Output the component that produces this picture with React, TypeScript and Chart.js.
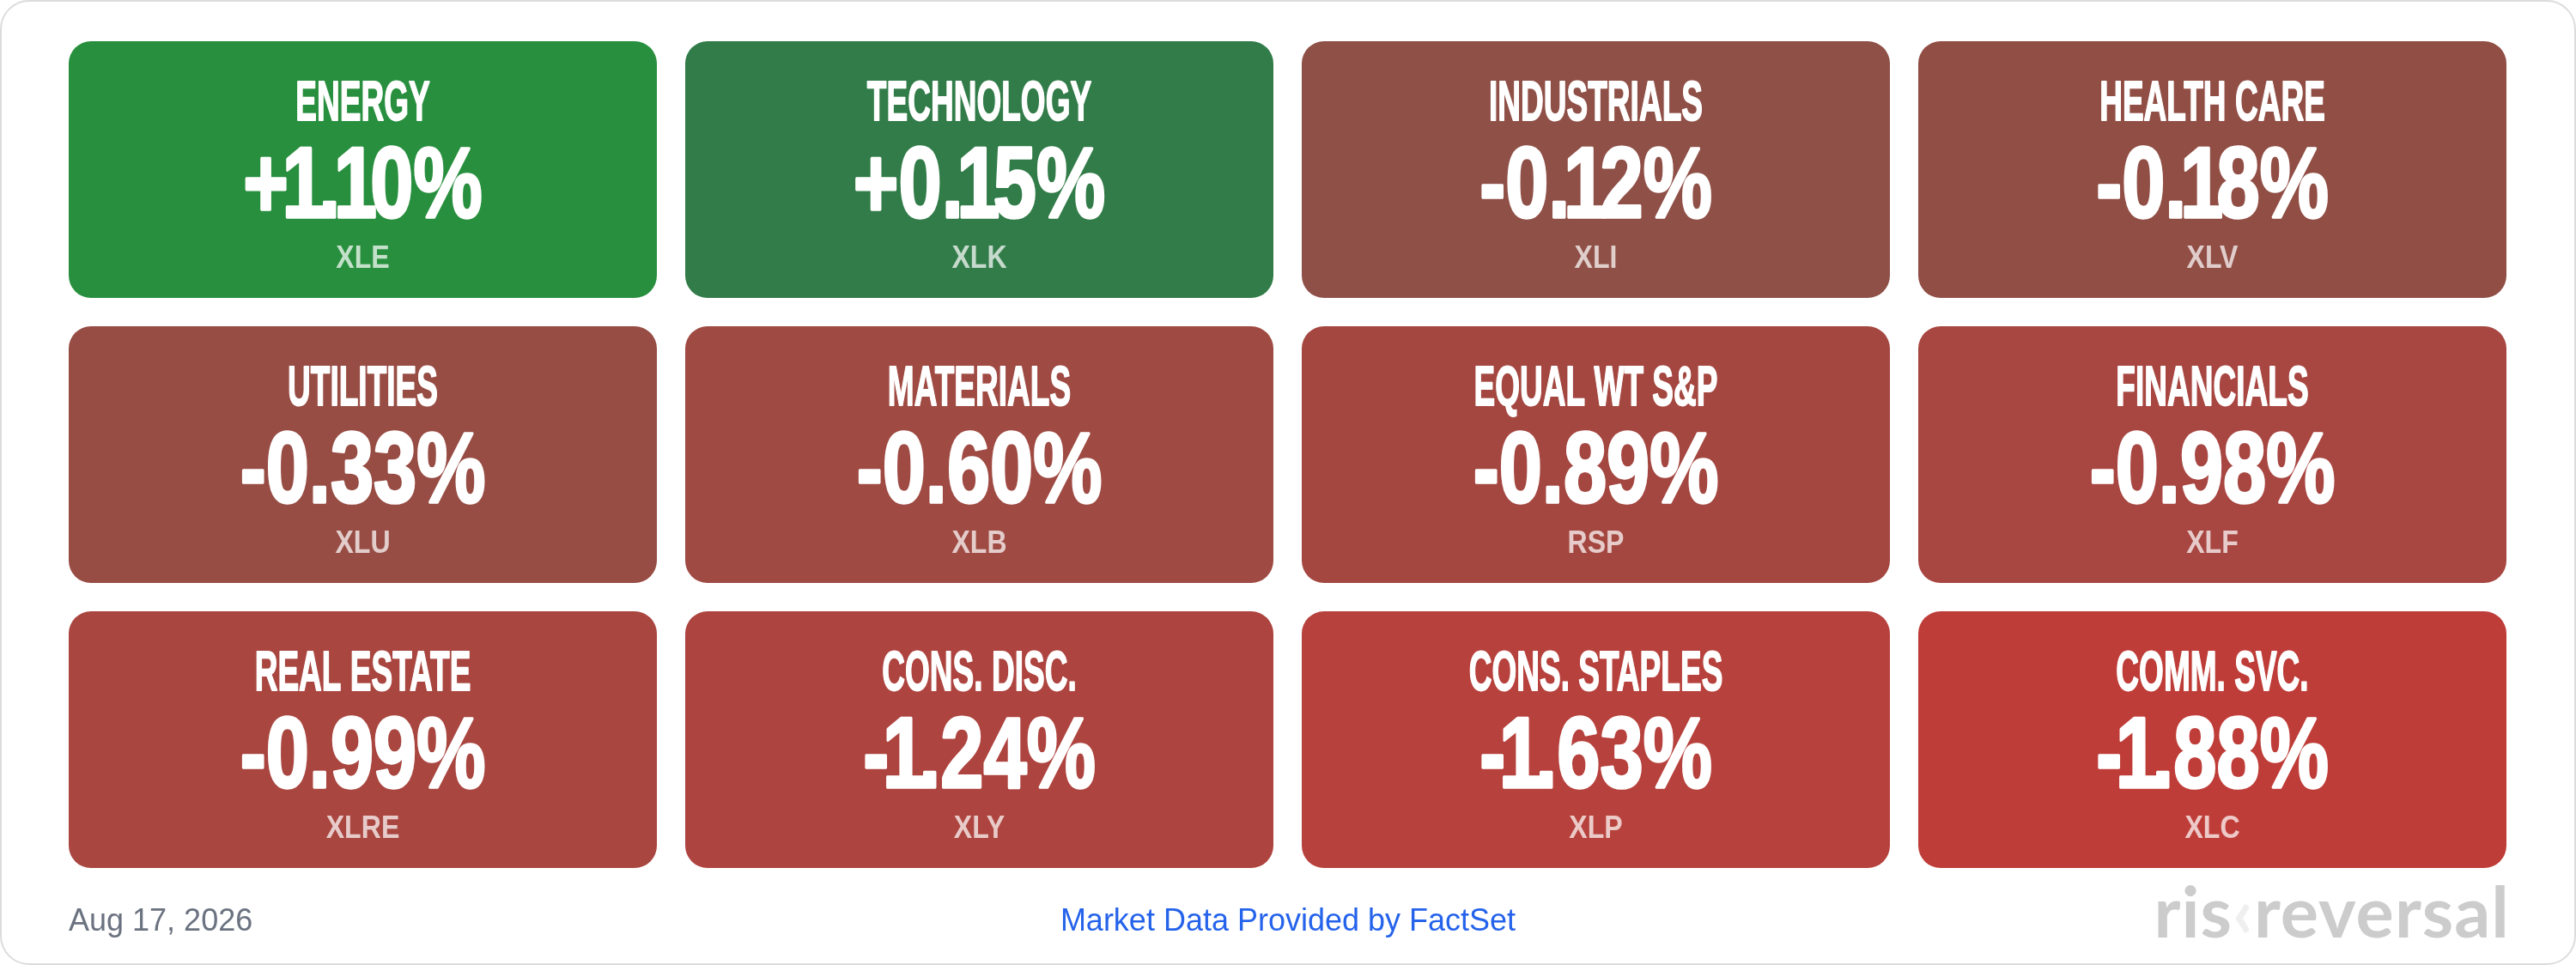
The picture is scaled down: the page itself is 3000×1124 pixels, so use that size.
import React, { useEffect, useRef } from "react";
import { Chart, registerables } from "chart.js";

Chart.register(...registerables);

// ---------- data ----------
const sectorNames = [
  "ENERGY", "TECHNOLOGY", "INDUSTRIALS", "HEALTH CARE",
  "UTILITIES", "MATERIALS", "EQUAL WT S&P", "FINANCIALS",
  "REAL ESTATE", "CONS. DISC.", "CONS. STAPLES", "COMM. SVC.",
];
const sectorChanges = [1.10, 0.15, -0.12, -0.18, -0.33, -0.60, -0.89, -0.98, -0.99, -1.24, -1.63, -1.88];
const sectorTickers = ["XLE", "XLK", "XLI", "XLV", "XLU", "XLB", "RSP", "XLF", "XLRE", "XLY", "XLP", "XLC"];
const tileColors = [
  "#288f3e", "#317c48", "#8f5047", "#914e45",
  "#974c44", "#9f4a42", "#a44740", "#a84641",
  "#a94640", "#ae443f", "#b7413c", "#bf3d38",
];
const columnLabels = ["1", "2", "3", "4"];
const rowCount = 3;
const dateLabel = "Aug 17, 2026";
const sourceLabel = "Market Data Provided by FactSet";

// ---------- styles ----------
const GAP = 16.5;
const RADIUS = 26;
const NAME_FONT = "'Liberation Sans Narrow', 'Liberation Sans', sans-serif";
const PCT_FONT = "'Liberation Sans Narrow', 'Liberation Sans', sans-serif";
const TICK_FONT = "'Liberation Sans', Arial, sans-serif";
const ONE_NARROW = 0.7;

function fmtPct(v: number) {
  return (v > 0 ? "+" : "") + v.toFixed(2) + "%";
}

type Cal = { size: number; sx: number; perChar: boolean };

function advances(ctx: CanvasRenderingContext2D, txt: string) {
  return Array.from(txt).map((ch) => {
    const w = ctx.measureText(ch).width;
    return ch === "1" ? w * ONE_NARROW : w;
  });
}

function calib(ctx: CanvasRenderingContext2D, family: string, cap: string, capPx: number, sample: string, sampleW: number, perChar: boolean): Cal {
  ctx.font = `bold 100px ${family}`;
  const a = ctx.measureText(cap).actualBoundingBoxAscent;
  const size = (100 * capPx) / a;
  ctx.font = `bold ${size}px ${family}`;
  let ink: number;
  if (perChar) {
    ink = advances(ctx, sample).reduce((s, v) => s + v, 0) * 0.98;
  } else {
    const m = ctx.measureText(sample);
    ink = m.actualBoundingBoxLeft + m.actualBoundingBoxRight;
  }
  return { size, sx: sampleW / ink, perChar };
}

function drawText(ctx: CanvasRenderingContext2D, txt: string, x: number, y: number, family: string, c: Cal, color: string, stroke: number) {
  ctx.save();
  ctx.font = `bold ${c.size}px ${family}`;
  ctx.textBaseline = "alphabetic";
  ctx.fillStyle = color;
  ctx.strokeStyle = color;
  ctx.lineWidth = stroke;
  ctx.lineJoin = "round";
  ctx.translate(x, y);
  ctx.scale(c.sx, 1);
  if (c.perChar) {
    const adv = advances(ctx, txt);
    const total = adv.reduce((s, v) => s + v, 0);
    let cx = -total / 2;
    ctx.textAlign = "center";
    Array.from(txt).forEach((ch, k) => {
      const px = cx + adv[k] / 2;
      ctx.fillText(ch, px, 0);
      if (stroke > 0) ctx.strokeText(ch, px, 0);
      cx += adv[k];
    });
  } else {
    ctx.textAlign = "center";
    ctx.fillText(txt, 0, 0);
    if (stroke > 0) ctx.strokeText(txt, 0, 0);
  }
  ctx.restore();
}

const tileLabels = {
  id: "tileLabels",
  afterDatasetsDraw(chart: any) {
    const ctx: CanvasRenderingContext2D = chart.ctx;
    const nameC = calib(ctx, NAME_FONT, "H", 46, "FINANCIALS", 221, false);
    const pctC = calib(ctx, PCT_FONT, "1", 81, "-0.98%", 280, true);
    const tickC = calib(ctx, TICK_FONT, "H", 26, "XLF", 60, false);
    chart.data.datasets.forEach((_ds: any, r: number) => {
      const meta = chart.getDatasetMeta(r);
      meta.data.forEach((el: any, c: number) => {
        const i = r * columnLabels.length + c;
        const p = el.getProps(["x", "y", "base"], true);
        const top = Math.min(p.y, p.base) + GAP;
        drawText(ctx, sectorNames[i], p.x, top + 92, NAME_FONT, nameC, "#ffffff", 1.8);
        drawText(ctx, fmtPct(sectorChanges[i]), p.x, top + 205, PCT_FONT, pctC, "#ffffff", 3.5);
        drawText(ctx, sectorTickers[i], p.x, top + 264, TICK_FONT, tickC, "rgba(255,255,255,0.72)", 0);
      });
    });
  },
};

export default function App() {
  const canvasRef = useRef<HTMLCanvasElement | null>(null);

  useEffect(() => {
    if (!canvasRef.current) return;
    const datasets = Array.from({ length: rowCount }, (_, r) => ({
      label: "row " + (r + 1),
      data: columnLabels.map(() => [r, r + 1] as [number, number]),
      backgroundColor: tileColors.slice(r * columnLabels.length, (r + 1) * columnLabels.length),
      borderColor: "rgba(0,0,0,0)",
      borderWidth: { top: GAP, bottom: GAP, left: GAP, right: GAP },
      borderRadius: {
        topLeft: RADIUS + GAP, topRight: RADIUS + GAP,
        bottomLeft: RADIUS + GAP, bottomRight: RADIUS + GAP,
      },
      borderSkipped: false,
      barPercentage: 1,
      categoryPercentage: 1,
      grouped: false,
      inflateAmount: 0,
    }));
    const chart = new Chart(canvasRef.current, {
      type: "bar",
      data: { labels: columnLabels, datasets: datasets as any },
      options: {
        animation: false,
        responsive: true,
        maintainAspectRatio: false,
        events: [],
        layout: { padding: { left: 63.5, right: 64.5, top: 31.5, bottom: 96.5 } },
        scales: {
          x: { display: false, offset: true },
          y: { display: false, min: 0, max: rowCount, reverse: true },
        },
        plugins: { legend: { display: false }, tooltip: { enabled: false } },
      } as any,
      plugins: [tileLabels],
    });
    return () => chart.destroy();
  }, []);

  return (
    <div style={{ position: "fixed", left: 0, top: 0, width: 3000, height: 1124, background: "#ffffff", overflow: "hidden" }}>
      <div
        style={{
          position: "absolute", left: 0, top: 0, width: 3000, height: 1124,
          boxSizing: "border-box", border: "2px solid #dcdcdc", borderRadius: 34,
        }}
      />
      <div style={{ position: "absolute", left: 0, top: 0, width: 3000, height: 1124 }}>
        <canvas ref={canvasRef} />
      </div>
      <div
        style={{
          position: "absolute", left: 80, top: 1053.5, fontFamily: "'Liberation Sans', Arial, sans-serif",
          fontSize: 36, lineHeight: "36px", color: "#6b7280", whiteSpace: "nowrap",
        }}
      >
        {dateLabel}
      </div>
      <div
        style={{
          position: "absolute", left: 0, width: 3000, top: 1053.5, textAlign: "center",
          fontFamily: "'Liberation Sans', Arial, sans-serif", fontSize: 36, lineHeight: "36px",
          color: "#2563eb", whiteSpace: "nowrap",
        }}
      >
        {sourceLabel}
      </div>
      <div
        style={{
          position: "absolute", right: 77, top: 1019, fontFamily: "Lato, 'Open Sans', sans-serif",
          fontWeight: 700, fontSize: 83, lineHeight: "83px", color: "#cccccc", whiteSpace: "nowrap",
          letterSpacing: 1,
        }}
      >
        <span>ris</span>
        <span style={{ color: "#efefef" }}>‹</span>
        <span>reversal</span>
      </div>
    </div>
  );
}
